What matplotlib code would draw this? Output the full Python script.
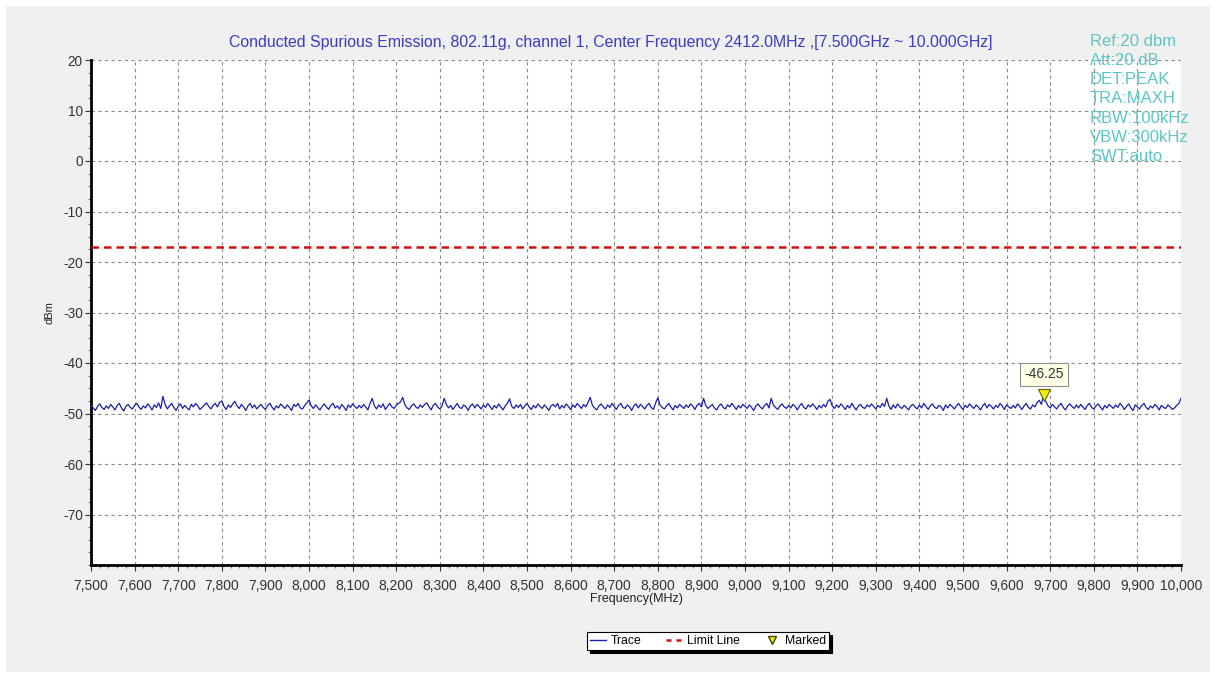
import numpy as np
import matplotlib
matplotlib.use("Agg")
import matplotlib.pyplot as plt
from matplotlib.patches import Rectangle
from matplotlib.lines import Line2D
from matplotlib.ticker import MultipleLocator, FuncFormatter

plt.rcParams['font.family'] = ['Liberation Sans', 'DejaVu Sans']
plt.rcParams['axes.unicode_minus'] = False

# --- data ---
freq_start, freq_stop = 7500, 10000   # MHz
limit_dbm = -17.0
marker_freq = 9685
marker_dbm = -46.25

# one row per 100 MHz, 5 MHz steps
trace_dbm = [
    -48.3, -48.9, -49.4, -48.6, -48.1, -48.8, -49.2, -48.5, -49.0, -48.2, -48.7, -49.3, -48.4, -48.0, -48.9, -49.5, -48.6, -48.2, -48.8, -49.1,
    -48.4, -48.0, -48.7, -49.2, -48.5, -48.9, -48.1, -48.6, -49.3, -48.3, -48.8, -47.9, -49.0, -46.6, -48.2, -49.1, -48.5, -48.0, -48.8, -49.4,
    -48.6, -48.1, -49.0, -48.4, -48.9, -49.3, -48.2, -48.7, -48.0, -48.5, -49.2, -48.8, -48.3, -47.9, -48.6, -49.1, -48.4, -48.0, -48.7, -47.8,
    -47.5, -48.6, -49.2, -48.3, -48.8, -48.1, -47.6, -48.5, -49.0, -48.2, -48.7, -49.4, -48.5, -48.0, -48.9, -48.3, -49.1, -48.6, -48.2, -48.8,
    -49.2, -48.4, -48.0, -48.7, -49.3, -48.5, -48.9, -48.1, -48.6, -49.0, -48.3, -48.8, -49.4, -48.2, -48.6, -48.0, -48.9, -49.1, -48.4, -47.9,
    -47.3, -48.5, -49.0, -48.3, -48.8, -49.3, -48.6, -48.1, -48.7, -49.2, -48.4, -48.0, -48.9, -48.5, -49.1, -48.2, -48.7, -49.4, -48.3, -48.8,
    -48.1, -48.6, -49.0, -48.4, -48.9, -48.2, -48.7, -49.3, -48.0, -47.0, -48.5, -49.1, -48.3, -48.8, -48.1, -49.2, -48.6, -48.0, -48.7, -49.0,
    -48.4, -48.0, -47.7, -46.8, -48.3, -48.9, -49.2, -48.5, -48.1, -48.7, -49.0, -48.3, -48.8, -48.2, -47.9, -48.6, -49.3, -48.4, -48.0, -48.7,
    -49.1, -48.5, -47.0, -48.2, -48.9, -48.4, -49.2, -48.6, -48.0, -48.8, -49.0, -48.3, -48.7, -49.4, -48.5, -48.1, -48.9, -48.2, -48.6, -49.1,
    -48.3, -48.8, -48.0, -48.6, -49.2, -48.4, -48.9, -48.1, -48.7, -49.3, -48.5, -48.0, -47.1, -48.6, -49.0, -48.3, -48.8, -48.2, -49.1, -48.5,
    -48.0, -48.7, -49.2, -48.4, -48.9, -48.1, -48.6, -49.0, -48.3, -48.8, -49.4, -48.5, -48.2, -48.7, -48.0, -49.1, -48.4, -48.9, -48.1, -48.6,
    -49.2, -48.3, -48.8, -48.0, -48.5, -49.0, -48.2, -48.7, -47.8, -46.8, -48.4, -48.9, -49.3, -48.5, -48.1, -48.7, -49.1, -48.3, -48.8, -48.0,
    -48.6, -49.2, -48.4, -48.0, -48.8, -49.0, -48.3, -48.7, -49.4, -48.5, -48.1, -48.9, -48.2, -48.6, -49.1, -48.4, -48.0, -48.8, -49.2, -47.9,
    -46.9, -48.3, -48.8, -49.1, -48.5, -48.0, -48.7, -49.3, -48.4, -48.9, -48.2, -48.6, -49.0, -48.3, -48.8, -48.1, -48.5, -49.2, -48.4, -48.0,
    -48.7, -47.0, -48.4, -49.0, -48.6, -48.2, -48.9, -49.3, -48.5, -48.1, -48.8, -49.1, -48.3, -48.7, -48.0, -48.6, -49.2, -48.4, -48.9, -48.2,
    -48.6, -49.0, -48.3, -48.8, -49.4, -48.5, -48.1, -48.7, -49.1, -48.4, -48.0, -48.9, -47.0, -48.3, -48.8, -49.2, -48.5, -48.1, -48.7, -49.0,
    -48.4, -48.9, -48.2, -48.6, -49.3, -48.5, -48.0, -48.8, -49.1, -48.3, -48.7, -48.1, -48.6, -49.2, -48.4, -48.9, -48.2, -48.7, -47.6, -47.2,
    -48.5, -49.0, -48.3, -48.8, -48.1, -48.6, -49.2, -48.4, -48.9, -48.0, -48.7, -49.3, -48.5, -48.2, -48.8, -49.0, -48.3, -48.7, -48.1, -48.6,
    -49.1, -48.4, -48.8, -48.0, -48.6, -47.0, -48.5, -49.2, -48.3, -48.9, -48.1, -48.7, -49.0, -48.4, -48.8, -49.3, -48.5, -48.2, -48.7, -49.1,
    -48.3, -48.9, -48.0, -48.6, -49.2, -48.5, -48.1, -48.8, -49.0, -48.4, -48.7, -49.4, -48.3, -48.9, -48.2, -48.6, -49.1, -48.5, -48.0, -48.7,
    -49.2, -48.4, -48.8, -48.1, -48.6, -49.0, -48.3, -48.7, -49.3, -48.5, -48.0, -48.9, -48.2, -48.6, -49.1, -48.4, -48.8, -48.0, -48.5, -49.2,
    -48.3, -48.7, -49.0, -48.4, -48.9, -48.1, -48.6, -49.2, -48.5, -48.0, -48.8, -49.1, -48.3, -48.7, -47.8, -47.4, -48.2, -46.25, -47.6, -48.5,
    -48.9, -48.2, -48.7, -49.1, -48.4, -48.0, -48.8, -49.3, -48.5, -48.1, -48.6, -49.0, -48.3, -48.9, -48.2, -48.7, -49.2, -48.4, -48.0, -48.8,
    -49.1, -48.5, -48.1, -48.7, -49.3, -48.4, -48.9, -48.2, -48.6, -49.0, -48.3, -48.8, -48.0, -48.5, -49.2, -48.6, -48.1, -48.9, -49.4, -48.3,
    -48.7, -49.1, -48.4, -48.0, -48.8, -49.2, -48.5, -48.9, -48.2, -48.6, -49.3, -48.4, -48.8, -49.0, -48.3, -48.7, -49.2, -48.9, -48.4, -48.0,
    -47.0,
]

info_lines = ["Ref:20 dbm", "Att:20 dB", "DET:PEAK", "TRA:MAXH",
              "RBW:100kHz", "VBW:300kHz", "SWT:auto"]

title = ("Conducted Spurious Emission, 802.11g, channel 1, Center Frequency 2412.0MHz "
         ",[7.500GHz ~ 10.000GHz]")

freqs = np.linspace(freq_start, freq_stop, len(trace_dbm))

# --- figure ---
fig = plt.figure(figsize=(12.16, 6.79), dpi=100, facecolor="white")
fig.patches.append(Rectangle((6 / 1216, 7 / 679), 1204 / 1216, 666 / 679,
                             transform=fig.transFigure, facecolor="#f0f0f0",
                             edgecolor="none", zorder=-10))

ax = fig.add_axes([91 / 1216, 1 - 565 / 679, 1090 / 1216, 505 / 679])
ax.set_facecolor("white")

ax.plot(freqs, trace_dbm, color="#1c1cb0", lw=0.9, zorder=3)
ax.axhline(limit_dbm, color="#d01010", lw=1.8, ls=(0, (3, 2)), zorder=3)
ax.plot([marker_freq], [marker_dbm], marker="v", ms=8, color="#f0f000",
        mec="#606020", mew=0.8, ls="none", zorder=4)
ax.annotate(f"{marker_dbm:.2f}", (marker_freq, marker_dbm), xytext=(0, 14.5),
            textcoords="offset points", ha="center", va="center", fontsize=10,
            color="#333333",
            bbox=dict(boxstyle="square,pad=0.3", fc="#ffffe6", ec="#909090", lw=0.8))

ax.set_xlim(freq_start, freq_stop)
ax.set_ylim(-80, 20)
ax.set_yticks(np.arange(-70, 21, 10))
ax.xaxis.set_major_locator(MultipleLocator(100))
ax.xaxis.set_minor_locator(MultipleLocator(20))
ax.yaxis.set_minor_locator(MultipleLocator(2.5))
ax.xaxis.set_major_formatter(FuncFormatter(lambda v, p: f"{v:,.0f}"))

ax.grid(True, which="major", color="#8a8a8a", ls=(0, (3, 3)), lw=0.8)
for s in ("top", "right"):
    ax.spines[s].set_visible(False)
for s in ("left", "bottom"):
    ax.spines[s].set_linewidth(2)
ax.tick_params(which="major", length=4, width=0.8, labelsize=9.8, colors="#333333",
               pad=2)
ax.tick_params(which="minor", length=2, width=0.6, colors="#555555")
ax.tick_params(axis="x", labelsize=10, pad=6)

ax.set_xlabel("Frequency(MHz)", fontsize=9, color="#222222", labelpad=0)
ax.set_ylabel("dBm", fontsize=8, color="#222222", labelpad=6)

fig.text(611 / 1216, 1 - 43 / 679, title, ha="center", va="center",
         fontsize=11.4, color="#3b3bc8")

for i, line in enumerate(info_lines):
    fig.text(1090 / 1216, 1 - (41 + i * 19.3) / 679, line, ha="left", va="center",
             fontsize=12, color="#5cc6c6")

handles = [Line2D([], [], color="#1c1cb0", lw=1),
           Line2D([], [], color="#d01010", lw=1.8, ls=(0, (2, 2))),
           Line2D([], [], marker="v", color="#f0f000", mec="#404010", ls="none", ms=6)]
leg = fig.legend(handles, ["Trace", "Limit Line", "Marked"], loc="center",
                 bbox_to_anchor=(708 / 1216, 1 - 641 / 679), ncol=3, fontsize=8.8,
                 frameon=True, fancybox=False, edgecolor="black",
                 shadow={"color": "black", "alpha": 1}, handlelength=1.3,
                 handletextpad=0.4, columnspacing=2.0, borderpad=0.25)
leg.get_frame().set_linewidth(0.8)

fig.savefig("out.png", dpi=100, facecolor=fig.get_facecolor())
